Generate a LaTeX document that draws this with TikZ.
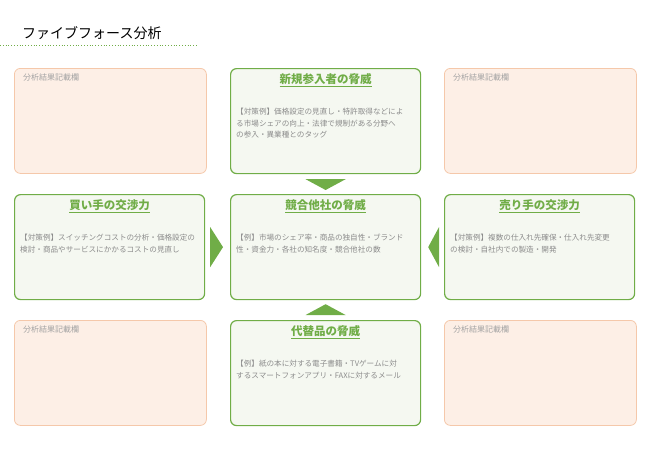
\documentclass[tikz,border=0pt]{standalone}
\usepackage{fontspec}
\setmainfont{Noto Sans CJK JP}
\usetikzlibrary{positioning,calc}
\definecolor{leaf}{RGB}{112,173,71}
\definecolor{leaffill}{RGB}{245,248,241}
\definecolor{peach}{RGB}{245,200,170}
\definecolor{peachfill}{RGB}{253,239,230}
\definecolor{memo}{RGB}{140,140,140}
\tikzset{
  force/.style={rectangle, rounded corners=6pt, draw=leaf, line width=1.2pt, fill=leaffill, minimum width=190pt, minimum height=105pt, anchor=north west},
  result/.style={rectangle, rounded corners=6pt, draw=peach, line width=0.8pt, fill=peachfill, minimum width=192pt, minimum height=105pt, anchor=north west},
  head/.style={font=\fontsize{11.5}{13}\selectfont\bfseries, text=leaf},
  body/.style={font=\fontsize{7.6}{11.5}\selectfont, text=memo, align=left, anchor=north west, inner sep=0pt},
  tag/.style={font=\fontsize{8}{10}\selectfont, text=memo!80, anchor=north west, inner sep=0pt},
  pointer/.style={fill=leaf, draw=none}
}
\newcommand{\uline}[1]{\underline{#1}}
\begin{document}
\begin{tikzpicture}[x=1pt,y=-1pt]
    \useasboundingbox (0,0) rectangle (650,450);
    \node[anchor=west, inner sep=0pt, font=\fontsize{14}{16}\selectfont] (Title) at (22,33) {ファイブフォース分析};
    \draw[leaf, dotted, line width=0.8pt] (0,45) coordinate (t0) -- (198,45) coordinate (t1);

    % result memo boxes
    \foreach \name/\x/\y in {RTL/14/68, RTR/444/68, RBL/14/320, RBR/444/320}{
      \node[result] (\name) at (\x,\y) {};
      \node[tag] at ($(\name.north west)+(9,6)$) {分析結果記載欄};
    }

    % the five forces
    \node[force] (New) at (230,68) {};
    \node[force] (Buy) at (14,194) {};
    \node[force] (Comp) at (230,194) {};
    \node[force] (Sell) at (444,194) {};
    \node[force] (Sub) at (230,320) {};

    \node[head, below=2pt of New.north] (NewH) {\uline{新規参入者の脅威}};
    \node[head, below=2pt of Buy.north] (BuyH) {\uline{買い手の交渉力}};
    \node[head, below=2pt of Comp.north] (CompH) {\uline{競合他社の脅威}};
    \node[head, below=2pt of Sell.north] (SellH) {\uline{売り手の交渉力}};
    \node[head, below=2pt of Sub.north] (SubH) {\uline{代替品の脅威}};

    \node[body] at ($(New.north west)+(6,40)$) {【対策例】価格設定の見直し・特許取得などによ\\る市場シェアの向上・法律で規制がある分野へ\\の参入・異業種とのタッグ};
    \node[body] at ($(Buy.north west)+(6,40)$) {【対策例】スイッチングコストの分析・価格設定の\\検討・商品やサービスにかかるコストの見直し};
    \node[body] at ($(Comp.north west)+(6,40)$) {【例】市場のシェア率・商品の独自性・ブランド\\性・資金力・各社の知名度・競合他社の数};
    \node[body] at ($(Sell.north west)+(6,40)$) {【対策例】複数の仕入れ先確保・仕入れ先変更\\の検討・自社内での製造・開発};
    \node[body] at ($(Sub.north west)+(6,40)$) {【例】紙の本に対する電子書籍・TVゲームに対\\するスマートフォンアプリ・FAXに対するメール};

    % pointers toward the centre
    \fill[pointer] ($(New.south)+(-20,5)$) -- ($(New.south)+(20,5)$) -- ($(Comp.north)+(0,-4)$) -- cycle;
    \fill[pointer] ($(Sub.north)+(-20,-5)$) -- ($(Sub.north)+(20,-5)$) -- ($(Comp.south)+(0,4)$) -- cycle;
    \fill[pointer] ($(Buy.east)+(5,-20)$) -- ($(Buy.east)+(5,20)$) -- ($(Comp.west)+(-7,0)$) -- cycle;
    \fill[pointer] ($(Sell.west)+(-5,-20)$) -- ($(Sell.west)+(-5,20)$) -- ($(Comp.east)+(7,0)$) -- cycle;
\end{tikzpicture}
\end{document}
